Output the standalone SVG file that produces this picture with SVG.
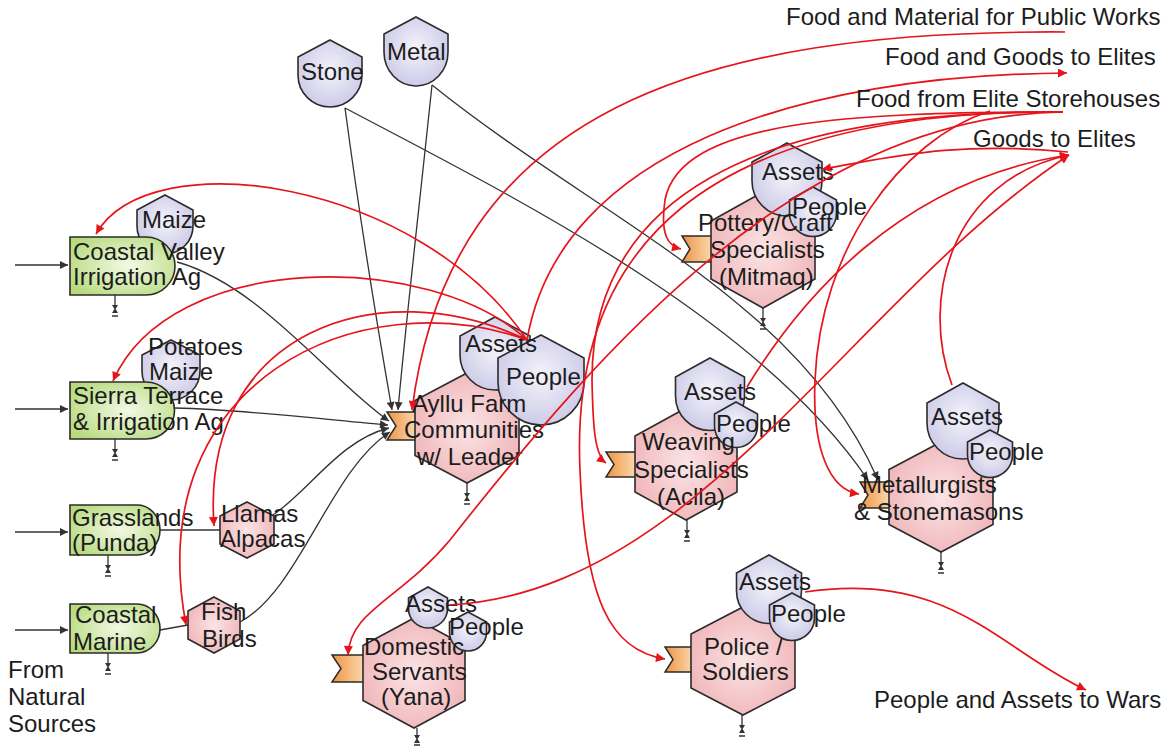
<svg xmlns="http://www.w3.org/2000/svg" width="1173" height="746" viewBox="0 0 1173 746">
  <defs>
    <radialGradient id="gLav" cx="50%" cy="45%" r="60%">
      <stop offset="0" stop-color="#f4f3fb"/>
      <stop offset="1" stop-color="#cac8e6"/>
    </radialGradient>
    <radialGradient id="gPink" cx="50%" cy="50%" r="60%">
      <stop offset="0" stop-color="#fbe4e5"/>
      <stop offset="1" stop-color="#efb2b6"/>
    </radialGradient>
    <radialGradient id="gGreen" cx="55%" cy="50%" r="65%">
      <stop offset="0" stop-color="#f2f9e4"/>
      <stop offset="1" stop-color="#b6da7c"/>
    </radialGradient>
    <linearGradient id="gOrange" x1="0" y1="0" x2="1" y2="0">
      <stop offset="0" stop-color="#ee9443"/>
      <stop offset="1" stop-color="#fbd8ae"/>
    </linearGradient>
    <marker id="arRed" viewBox="0 0 10 10" refX="10" refY="5" markerWidth="11" markerHeight="9" markerUnits="userSpaceOnUse" orient="auto">
      <path d="M0,0 L10,5 L0,10 Z" fill="#e5151b"/>
    </marker>
    <marker id="arBlk" viewBox="0 0 10 10" refX="10" refY="5" markerWidth="10" markerHeight="8" markerUnits="userSpaceOnUse" orient="auto">
      <path d="M0,0 L10,5 L0,10 Z" fill="#333"/>
    </marker>
    <style>
      .bag { fill: url(#gLav); stroke: #2b2b2b; stroke-width: 1.6; }
      .hex { fill: url(#gPink); stroke: #2b2b2b; stroke-width: 1.6; }
      .stock { fill: url(#gGreen); stroke: #2b2b2b; stroke-width: 1.6; }
      .flag { fill: url(#gOrange); stroke: #2b2b2b; stroke-width: 1.5; }
      .sink { stroke: #333; stroke-width: 1.3; fill: none; }
      .sinkmark { fill: #333; }
      .flow { fill: none; stroke: #333; stroke-width: 1.3; }
      .red { fill: none; stroke: #e5151b; stroke-width: 1.7; }
      text { font-family: "Liberation Sans", Arial, sans-serif; font-size: 24px; fill: #1c1c1c; }
    </style>
  </defs>

  <rect width="1173" height="746" fill="#ffffff"/>

  <!-- black material flows -->
  <g id="connectors-black">
    <path class="flow" d="M15,265 H68" marker-end="url(#arBlk)"/>
    <path class="flow" d="M15,409 H68" marker-end="url(#arBlk)"/>
    <path class="flow" d="M15,532 H68" marker-end="url(#arBlk)"/>
    <path class="flow" d="M15,630 H68" marker-end="url(#arBlk)"/>
    <path class="flow" d="M160,530 H220"/>
    <path class="flow" d="M160,630 L188,625"/>
    <path class="flow" d="M345,108 C 360,220 378,330 392,410" marker-end="url(#arBlk)"/>
    <path class="flow" d="M432,85 C 420,200 405,330 398,410" marker-end="url(#arBlk)"/>
    <path class="flow" d="M177,262 C 260,285 330,380 389,421" marker-end="url(#arBlk)"/>
    <path class="flow" d="M175,408 C 250,410 330,420 388,425" marker-end="url(#arBlk)"/>
    <path class="flow" d="M273,515 C 310,490 340,440 389,428" marker-end="url(#arBlk)"/>
    <path class="flow" d="M240,622 C 300,590 330,470 390,432" marker-end="url(#arBlk)"/>
    <path class="flow" d="M345,108 C 520,200 760,320 868,480" marker-end="url(#arBlk)"/>
    <path class="flow" d="M432,85 C 600,220 800,300 878,480" marker-end="url(#arBlk)"/>
  </g>

  <!-- nodes -->
  <g id="stone">
    <path class="bag" d="M330,40 L362,57 L362,75 A32,32 0 0 1 298,75 L298,57 Z"/>
    <text x="301" y="80">Stone</text>
  </g>
  <g id="metal">
    <path class="bag" d="M416,17 L448,34 L448,52 A32,34 0 0 1 384,52 L384,34 Z"/>
    <text x="387" y="60">Metal</text>
  </g>

  <g id="coastal-valley">
    <path class="bag" d="M165,195 L193,210 L193,226 A28,28 0 0 1 137,226 L137,210 Z"/>
    <path class="stock" d="M70,237 H146 A29,29 0 0 1 146,295 H70 Z"/>
    <path class="sink" d="M115,295 V311 M112,316 H118"/>
    <path class="sinkmark" d="M112,305 L118,305 L115,310 Z M112,313 L118,313 L115,308 Z"/>
    <text x="142" y="228">Maize</text>
    <text x="73" y="260">Coastal Valley</text>
    <text x="73" y="285">Irrigation Ag</text>
  </g>

  <g id="sierra">
    <path class="bag" d="M171,340 L200,355 L200,371 A29,29 0 0 1 142,371 L142,355 Z"/>
    <path class="stock" d="M70,382 H146 A28.5,28.5 0 0 1 146,439 H70 Z"/>
    <path class="sink" d="M115,439 V455 M112,460 H118"/>
    <path class="sinkmark" d="M112,449 L118,449 L115,454 Z M112,457 L118,457 L115,452 Z"/>
    <text x="148" y="355">Potatoes</text>
    <text x="149" y="380">Maize</text>
    <text x="73" y="404">Sierra Terrace</text>
    <text x="73" y="430">&amp; Irrigation Ag</text>
  </g>

  <g id="grasslands">
    <path class="stock" d="M70,505 H137 A23,25 0 0 1 137,555 H70 Z"/>
    <path class="sink" d="M108,555 V571 M105,576 H111"/>
    <path class="sinkmark" d="M105,565 L111,565 L108,570 Z M105,573 L111,573 L108,568 Z"/>
    <text x="72" y="526">Grasslands</text>
    <text x="72" y="551">(Punda)</text>
  </g>

  <g id="llamas">
    <path class="hex" d="M247,502 L274,516 L274,544 L247,558 L220,544 L220,516 Z"/>
    <text x="221" y="522">Llamas</text>
    <text x="220" y="547">Alpacas</text>
  </g>

  <g id="coastal-marine">
    <path class="stock" d="M70,604 H137 A23,24.5 0 0 1 137,653 H70 Z"/>
    <path class="sink" d="M108,653 V669 M105,674 H111"/>
    <path class="sinkmark" d="M105,663 L111,663 L108,668 Z M105,671 L111,671 L108,666 Z"/>
    <text x="75" y="623">Coastal</text>
    <text x="73" y="650">Marine</text>
  </g>

  <g id="fish">
    <path class="hex" d="M214,597 L240,611 L240,639 L214,653 L188,639 L188,611 Z"/>
    <text x="201" y="620">Fish</text>
    <text x="202" y="647">Birds</text>
  </g>

  <g id="natural-sources">
    <text x="8" y="678">From</text>
    <text x="8" y="705">Natural</text>
    <text x="8" y="732">Sources</text>
  </g>

  <g id="ayllu">
    <path class="flag" d="M387,412 H416 V440 H387 L396,426 Z"/>
    <path class="hex" d="M467,373 L519,400.5 L519,455.5 L467,483 L415,455.5 L415,400.5 Z"/>
    <path class="bag" d="M495,317 L530,336 L530,355 A35,35 0 0 1 460,355 L460,336 Z"/>
    <path class="bag" d="M541,335 L584,358 L584,382 A43,43 0 0 1 498,382 L498,358 Z"/>
    <path class="sink" d="M467,483 V499 M464,504 H470"/>
    <path class="sinkmark" d="M464,493 L470,493 L467,498 Z M464,501 L470,501 L467,496 Z"/>
    <text x="465" y="352">Assets</text>
    <text x="506" y="385">People</text>
    <text x="412" y="412">Ayllu Farm</text>
    <text x="404" y="438">Communities</text>
    <text x="417" y="465">w/ Leader</text>
  </g>

  <g id="pottery">
    <path class="flag" d="M682,236 H712 V262 H682 L690,249 Z"/>
    <path class="hex" d="M763,192 L815,221 L815,279 L763,308 L711,279 L711,221 Z"/>
    <path class="bag" d="M787,143 L822,162 L822,181 A35,35 0 0 1 752,181 L752,162 Z"/>
    <path class="bag" d="M813,187 L836.5,200 L836.5,213 A23.5,23.5 0 0 1 789.5,213 L789.5,200 Z"/>
    <path class="sink" d="M763,308 V324 M760,329 H766"/>
    <path class="sinkmark" d="M760,318 L766,318 L763,323 Z M760,326 L766,326 L763,321 Z"/>
    <text x="762" y="180">Assets</text>
    <text x="792" y="215">People</text>
    <text x="698" y="231">Pottery/Craft</text>
    <text x="710" y="258">Specialists</text>
    <text x="719" y="285">(Mitmaq)</text>
  </g>

  <g id="weaving">
    <path class="flag" d="M606,452 H636 V477 H606 L614,464.5 Z"/>
    <path class="hex" d="M686,408 L737,436 L737,492 L686,520 L635,492 L635,436 Z"/>
    <path class="bag" d="M710,358 L744.5,377 L744.5,396 A34.5,34.5 0 0 1 675.5,396 L675.5,377 Z"/>
    <path class="bag" d="M736,402 L757.5,414 L757.5,426 A21.5,21.5 0 0 1 714.5,426 L714.5,414 Z"/>
    <path class="sink" d="M687,520 V536 M684,541 H690"/>
    <path class="sinkmark" d="M684,530 L690,530 L687,535 Z M684,538 L690,538 L687,533 Z"/>
    <text x="684" y="400">Assets</text>
    <text x="716" y="432">People</text>
    <text x="642" y="450">Weaving</text>
    <text x="634" y="478">Specialists</text>
    <text x="657" y="505">(Aclla)</text>
  </g>

  <g id="metallurgists">
    <path class="flag" d="M860,482 H890 V508 H860 L868,495 Z"/>
    <path class="hex" d="M941,442 L993,469.5 L993,524.5 L941,552 L889,524.5 L889,469.5 Z"/>
    <path class="bag" d="M963,383 L999,403 L999,423 A36,36 0 0 1 927,423 L927,403 Z"/>
    <path class="bag" d="M990,430 L1012.5,442 L1012.5,455 A22.5,22.5 0 0 1 967.5,455 L967.5,442 Z"/>
    <path class="sink" d="M941,552 V568 M938,573 H944"/>
    <path class="sinkmark" d="M938,562 L944,562 L941,567 Z M938,570 L944,570 L941,565 Z"/>
    <text x="931" y="425">Assets</text>
    <text x="969" y="460">People</text>
    <text x="862" y="493">Metallurgists</text>
    <text x="854" y="520">&amp; Stonemasons</text>
  </g>

  <g id="domestic">
    <path class="flag" d="M332,655 H364 V682 H332 L341,668.5 Z"/>
    <path class="hex" d="M414,618 L465,645.5 L465,700.5 L414,728 L363,700.5 L363,645.5 Z"/>
    <path class="bag" d="M428,587 L447.5,598 L447.5,608.5 A19.5,19.5 0 0 1 408.5,608.5 L408.5,598 Z"/>
    <path class="bag" d="M468,612 L486.5,622 L486.5,632.5 A18.5,18.5 0 0 1 449.5,632.5 L449.5,622 Z"/>
    <path class="sink" d="M417,728 V741 M414,745 H420"/>
    <path class="sinkmark" d="M414,735 L420,735 L417,740 Z M414,743 L420,743 L417,738 Z"/>
    <text x="405" y="612">Assets</text>
    <text x="449" y="635">People</text>
    <text x="364" y="655">Domestic</text>
    <text x="372" y="680">Servants</text>
    <text x="381" y="705">(Yana)</text>
  </g>

  <g id="police">
    <path class="flag" d="M665,647 H693 V672 H665 L673,659.5 Z"/>
    <path class="hex" d="M743,607 L795,634 L795,688 L743,715 L691,688 L691,634 Z"/>
    <path class="bag" d="M769,555 L801.5,573 L801.5,591 A32.5,32.5 0 0 1 736.5,591 L736.5,573 Z"/>
    <path class="bag" d="M792,593 L814.5,605 L814.5,618 A22.5,22.5 0 0 1 769.5,618 L769.5,605 Z"/>
    <path class="sink" d="M742,715 V731 M739,736 H745"/>
    <path class="sinkmark" d="M739,725 L745,725 L742,730 Z M739,733 L745,733 L742,728 Z"/>
    <text x="739" y="590">Assets</text>
    <text x="771" y="622">People</text>
    <text x="704" y="655">Police /</text>
    <text x="702" y="680">Soldiers</text>
  </g>

  <!-- red exchange flows -->
  <g id="connectors-red">
    <path class="red" d="M1065,32 C 700,30 450,110 412,410" marker-end="url(#arRed)"/>
    <path class="red" d="M527,340 C 560,150 800,75 1067,73" marker-end="url(#arRed)"/>
    <path class="red" d="M527,340 C 420,180 150,140 96,234" marker-end="url(#arRed)"/>
    <path class="red" d="M527,340 C 430,250 170,250 113,381" marker-end="url(#arRed)"/>
    <path class="red" d="M527,340 C 380,270 200,330 214,526" marker-end="url(#arRed)"/>
    <path class="red" d="M527,340 C 360,280 140,380 186,625" marker-end="url(#arRed)"/>
    <path class="red" d="M1063,112 C 850,112 680,120 665,200 C 660,235 668,246 681,249" marker-end="url(#arRed)"/>
    <path class="red" d="M990,111 C 900,140 820,250 815,380 C 812,450 830,490 859,494" marker-end="url(#arRed)"/>
    <path class="red" d="M1063,112 C 750,110 592,200 592,380 C 593,430 595,455 606,463" marker-end="url(#arRed)"/>
    <path class="red" d="M1063,112 C 700,110 570,250 580,470 C 585,600 610,650 665,659" marker-end="url(#arRed)"/>
    <path class="red" d="M1063,112 C 800,115 600,350 450,540 C 400,600 350,610 348,655" marker-end="url(#arRed)"/>
    <path class="red" d="M1068,152 C 950,140 880,160 822,169" marker-end="url(#arRed)"/>
    <path class="red" d="M747,387 C 800,300 900,180 1069,155" marker-end="url(#arRed)"/>
    <path class="red" d="M952,385 C 920,300 950,180 1069,155" marker-end="url(#arRed)"/>
    <path class="red" d="M450,605 C 700,590 850,300 1069,155" marker-end="url(#arRed)"/>
    <path class="red" d="M805,592 C 950,570 1000,650 1086,690" marker-end="url(#arRed)"/>
  </g>

  <!-- boundary labels -->
  <g id="labels">
    <text x="786" y="25">Food and Material for Public Works</text>
    <text x="885" y="65">Food and Goods to Elites</text>
    <text x="856" y="107">Food from Elite Storehouses</text>
    <text x="973" y="147">Goods to Elites</text>
    <text x="874" y="708">People and Assets to Wars</text>
  </g>
</svg>
